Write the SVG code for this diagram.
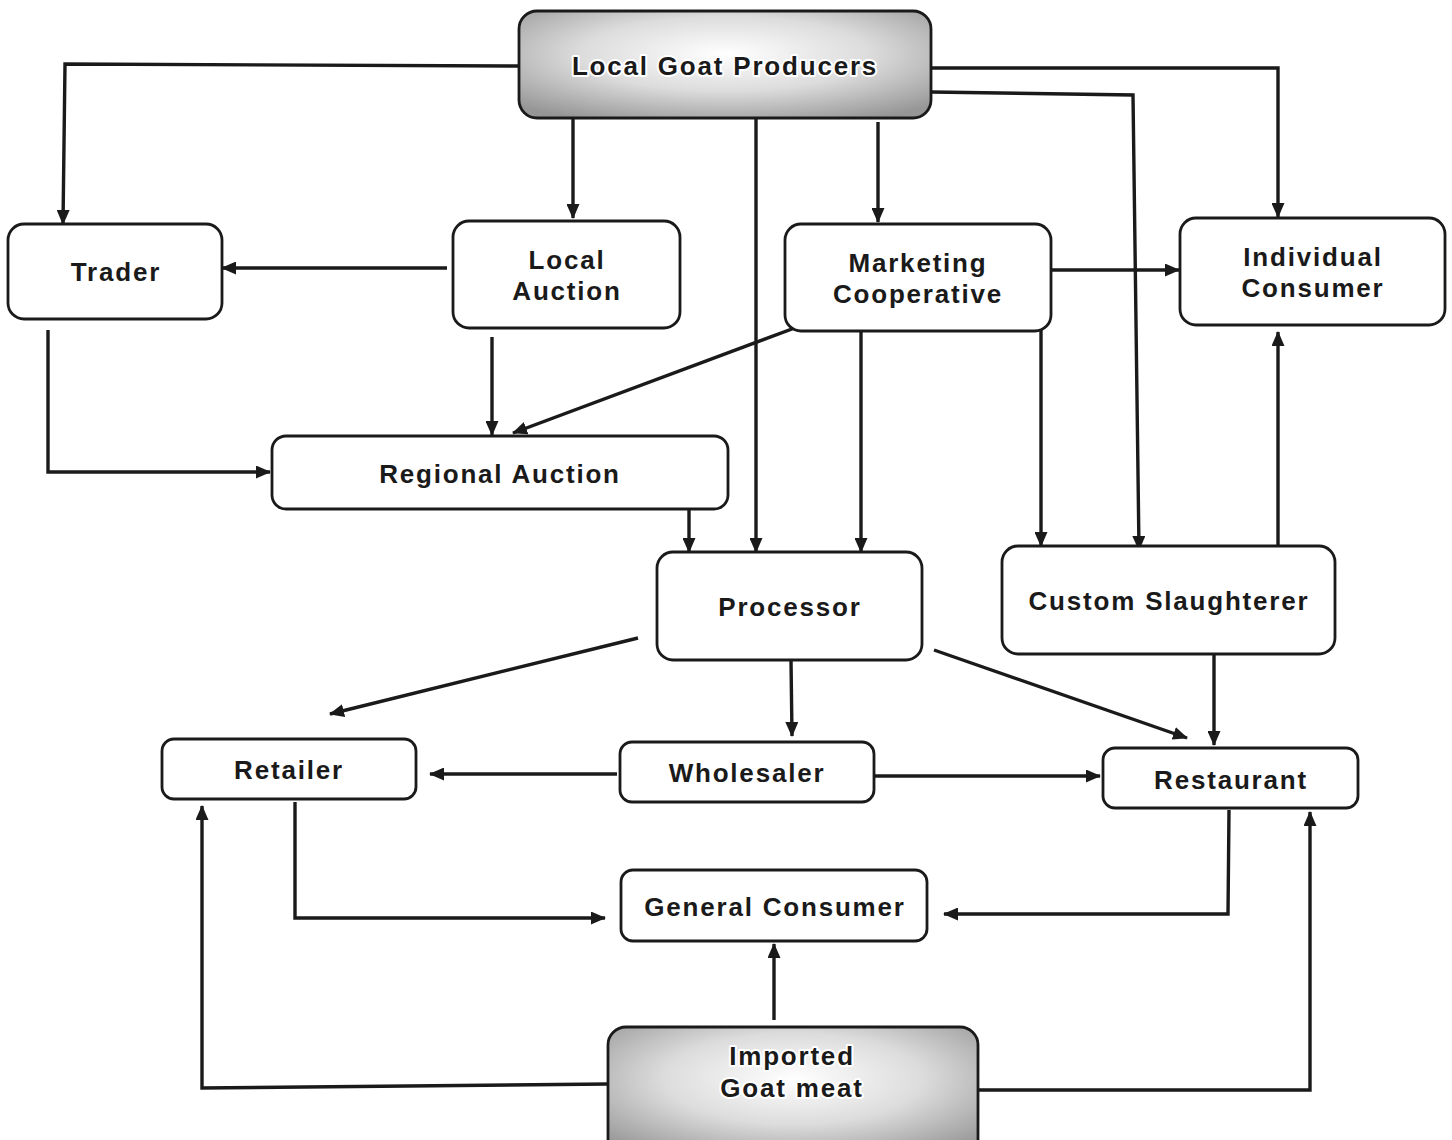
<svg xmlns="http://www.w3.org/2000/svg" width="1452" height="1140" viewBox="0 0 1452 1140">
<defs>
<style>
.box{fill:#fff;stroke:#1a1a1a;stroke-width:2.8}
.gbox{fill:url(#g);stroke:#1a1a1a;stroke-width:2.8}
.t{font-family:"Liberation Sans",Arial,sans-serif;font-weight:bold;font-size:26px;fill:#1a1a1a;text-anchor:middle;letter-spacing:1.8px}
.h{stroke:#fff;stroke-width:4;paint-order:stroke;stroke-linejoin:round}
.c{fill:none;stroke:#1a1a1a;stroke-width:3.4;marker-end:url(#a)}
</style>
<radialGradient id="g" cx="50%" cy="40%" r="70%">
<stop offset="0" stop-color="#ffffff"/>
<stop offset="0.5" stop-color="#dcdcdc"/>
<stop offset="1" stop-color="#969696"/>
</radialGradient>
<marker id="a" viewBox="0 0 15 13" refX="14" refY="6.5" markerWidth="15" markerHeight="13" markerUnits="userSpaceOnUse" orient="auto">
<path d="M0,0 L15,6.5 L0,13 z" fill="#1a1a1a"/>
</marker>
</defs>
<rect width="1452" height="1140" fill="#fff"/>
<g id="connectors">
<path class="c" d="M519,66 L65,64 L63,224"/>
<path class="c" d="M573,118 L573,218"/>
<path class="c" d="M756,118 L756,552"/>
<path class="c" d="M878,122 L878,222"/>
<path class="c" d="M931,68 L1278,68 L1278,217"/>
<path class="c" d="M931,92 L1133,95 L1139,550"/>
<path class="c" d="M447,268 L222,268"/>
<path class="c" d="M492,337 L492,435"/>
<path class="c" d="M800,326 L513,433"/>
<path class="c" d="M1051,270 L1179,270"/>
<path class="c" d="M861,331 L861,552"/>
<path class="c" d="M1041,322 L1041,546"/>
<path class="c" d="M48,330 L48,472 L270,472"/>
<path class="c" d="M689,509 L689,552"/>
<path class="c" d="M1278,546 L1278,332"/>
<path class="c" d="M638,638 L330,714"/>
<path class="c" d="M791,660 L792,736"/>
<path class="c" d="M934,650 L1187,738"/>
<path class="c" d="M1214,652 L1214,745"/>
<path class="c" d="M617,774 L430,774"/>
<path class="c" d="M874,776 L1100,776"/>
<path class="c" d="M295,802 L295,918 L605,918"/>
<path class="c" d="M1229,810 L1228,914 L944,914"/>
<path class="c" d="M774,1020 L774,944"/>
<path class="c" d="M608,1084 L202,1088 L202,806"/>
<path class="c" d="M978,1090 L1310,1090 L1310,812"/>
</g>
<g id="local-goat-producers">
<rect class="gbox" x="519" y="11" width="412" height="107" rx="18"/>
<text class="t h" x="725" y="75">Local Goat Producers</text>
</g>
<g id="trader">
<rect class="box" x="8" y="224" width="214" height="95" rx="16"/>
<text class="t" x="116" y="281">Trader</text>
</g>
<g id="local-auction">
<rect class="box" x="453" y="221" width="227" height="107" rx="16"/>
<text class="t" x="567" y="269">Local</text>
<text class="t" x="567" y="300">Auction</text>
</g>
<g id="marketing-cooperative">
<rect class="box" x="785" y="224" width="266" height="107" rx="16"/>
<text class="t" x="918" y="272">Marketing</text>
<text class="t" x="918" y="303">Cooperative</text>
</g>
<g id="individual-consumer">
<rect class="box" x="1180" y="218" width="265" height="107" rx="16"/>
<text class="t" x="1313" y="266">Individual</text>
<text class="t" x="1313" y="297">Consumer</text>
</g>
<g id="regional-auction">
<rect class="box" x="272" y="436" width="456" height="73" rx="14"/>
<text class="t" x="500" y="483">Regional Auction</text>
</g>
<g id="processor">
<rect class="box" x="657" y="552" width="265" height="108" rx="16"/>
<text class="t" x="790" y="616">Processor</text>
</g>
<g id="custom-slaughterer">
<rect class="box" x="1002" y="546" width="333" height="108" rx="16"/>
<text class="t" x="1169" y="610">Custom Slaughterer</text>
</g>
<g id="retailer">
<rect class="box" x="162" y="739" width="254" height="60" rx="12"/>
<text class="t" x="289" y="779">Retailer</text>
</g>
<g id="wholesaler">
<rect class="box" x="620" y="742" width="254" height="60" rx="12"/>
<text class="t" x="747" y="782">Wholesaler</text>
</g>
<g id="restaurant">
<rect class="box" x="1103" y="748" width="255" height="60" rx="12"/>
<text class="t" x="1231" y="789">Restaurant</text>
</g>
<g id="general-consumer">
<rect class="box" x="621" y="870" width="306" height="71" rx="12"/>
<text class="t" x="775" y="916">General Consumer</text>
</g>
<g id="imported-goat-meat">
<rect class="gbox" x="608" y="1027" width="370" height="130" rx="18"/>
<text class="t h" x="792" y="1065">Imported</text>
<text class="t h" x="792" y="1097">Goat meat</text>
</g>
</svg>
